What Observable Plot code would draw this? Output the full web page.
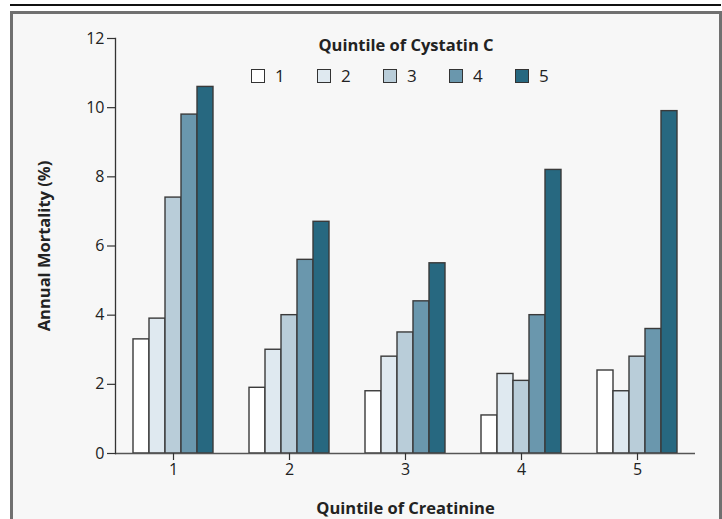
<!DOCTYPE html>
<html>
<head>
<meta charset="utf-8">
<script src="https://cdn.jsdelivr.net/npm/d3@7"></script>
<script src="https://cdn.jsdelivr.net/npm/@observablehq/plot@0.6"></script>
<style>
html, body { margin: 0; padding: 0; background: #ffffff; }
#wrap { position: relative; width: 722px; height: 519px; overflow: hidden; font-family: "Open Sans", "Noto Sans", sans-serif; color: #222; }
#topline { position: absolute; left: 10px; top: 4px; width: 711px; height: 2px; background: #111; }
#panel { position: absolute; left: 10px; top: 11px; width: 706px; height: 530px; border: 3px solid #707070; border-bottom: none; background: #f7f7f7; }
#chart { position: absolute; left: 0; top: 0; }
#legend-title { position: absolute; left: 286px; width: 240px; top: 34px; text-align: center; font-size: 16.5px; font-weight: 700; line-height: 22px; color: #222; }
#legend-items { position: absolute; left: 251px; top: 68px; display: flex; }
.leg-item { display: flex; align-items: center; width: 66px; font-size: 17px; line-height: 16px; color: #222; }
.leg-box { width: 12px; height: 12px; border: 1.5px solid #333; margin-right: 10px; }
#chart svg text { font-size: 16px !important; fill: #222; font-family: "Open Sans", "Noto Sans", sans-serif; }
#chart svg g[aria-label="y-axis label"] text, #chart svg g[aria-label="fx-axis label"] text { font-size: 16.5px !important; font-weight: 700; }
</style>
</head>
<body>
<div id="wrap">
  <div id="topline"></div>
  <div id="panel"></div>
  <div id="chart"></div>
  <div id="legend-title"></div>
  <div id="legend-items"></div>
</div>
<script>
// Categories
const creatinineQuintiles = [1, 2, 3, 4, 5];
const cystatinQuintiles = ["1", "2", "3", "4", "5"];
// Annual mortality (%) for each cystatin C quintile, across creatinine quintiles 1..5
const cystatin1 = [3.3, 1.9, 1.8, 1.1, 2.4];
const cystatin2 = [3.9, 3.0, 2.8, 2.3, 1.8];
const cystatin3 = [7.4, 4.0, 3.5, 2.1, 2.8];
const cystatin4 = [9.8, 5.6, 4.4, 4.0, 3.6];
const cystatin5 = [10.6, 6.7, 5.5, 8.2, 9.9];
const yTicks = [0, 2, 4, 6, 8, 10, 12];
const colors = ["#ffffff", "#dfe9f0", "#b9cdd9", "#6a97ad", "#276880"];
const legendTitle = "Quintile of Cystatin C";

const series = [cystatin1, cystatin2, cystatin3, cystatin4, cystatin5];
const data = [];
creatinineQuintiles.forEach((c, i) => {
  cystatinQuintiles.forEach((q, j) => {
    data.push({creatinine: c, cystatin: q, value: series[j][i]});
  });
});

const chart = Plot.plot({
  width: 722,
  height: 519,
  marginLeft: 113,
  marginRight: 26,
  marginTop: 38,
  marginBottom: 66,
  style: { background: "transparent", fontFamily: "'Open Sans', 'Noto Sans', sans-serif", fontSize: "16px", color: "#222" },
  fx: { domain: creatinineQuintiles, padding: 0 },
  x: { domain: cystatinQuintiles, paddingInner: 0, paddingOuter: 1, axis: null },
  y: { domain: [0, 12] },
  color: { domain: cystatinQuintiles, range: colors },
  marks: [
    Plot.barY(data, { fx: "creatinine", x: "cystatin", y: "value", fill: "cystatin", stroke: "#3a3a3a", strokeWidth: 1.4 }),
    Plot.ruleY([0], { stroke: "#555", strokeWidth: 1.5 }),
    Plot.frame({ anchor: "left", facetAnchor: "left", stroke: "#333", strokeWidth: 1.3 }),
    Plot.axisY({ ticks: yTicks, tickSize: 8, tickPadding: 3, fontSize: 16, stroke: "#333", strokeWidth: 1.2,
      label: "Annual Mortality (%)", labelAnchor: "center", labelArrow: "none", labelOffset: 77 }),
    Plot.axisFx({ anchor: "bottom", tickSize: 7, tickPadding: 3, fontSize: 16, stroke: "#333", strokeWidth: 1.2,
      label: "Quintile of Creatinine", labelAnchor: "center", labelArrow: "none", labelOffset: 60 })
  ]
});
document.getElementById("chart").appendChild(chart);

document.getElementById("legend-title").textContent = legendTitle;
const items = d3.select("#legend-items").selectAll("div").data(cystatinQuintiles).join("div").attr("class", "leg-item");
items.append("span").attr("class", "leg-box").style("background", (d, i) => colors[i]);
items.append("span").text(d => d);
</script>
</body>
</html>
